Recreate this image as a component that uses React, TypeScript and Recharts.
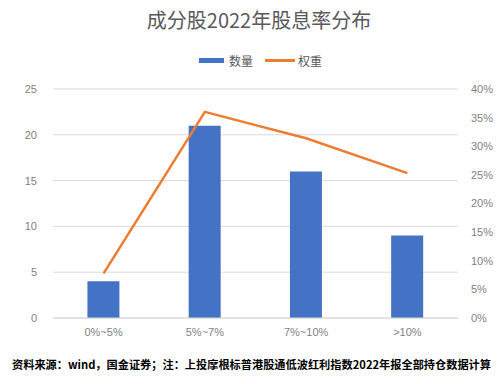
import React from 'react';
import { ComposedChart, Bar, Line, XAxis, YAxis, CartesianGrid } from 'recharts';

// Data
const categories = ['0%~5%', '5%~7%', '7%~10%', '>10%'];
const counts = [4, 21, 16, 9];
const weights = [0.078, 0.36, 0.314, 0.253];
const leftTicks = [0, 5, 10, 15, 20, 25];
const rightTicks = [0, 0.05, 0.1, 0.15, 0.2, 0.25, 0.3, 0.35, 0.4];

const title = '成分股2022年股息率分布';
const note = '资料来源：wind，国金证券；注：上投摩根标普港股通低波红利指数2022年报全部持仓数据计算';

const BLUE = '#4472c4';
const ORANGE = '#ed7d31';
const AXIS_TEXT = '#7f7f7f';
const FONT = '"Liberation Sans", "Noto Sans CJK SC", sans-serif';

const data = categories.map((name, i) => ({ name, count: counts[i], weight: weights[i] }));

const tickStyle = { fill: AXIS_TEXT, fontSize: 11, fontFamily: FONT };

export default function App() {
  return (
    <div style={{ position: 'fixed', left: 0, top: 0, width: 499, height: 384, background: '#fff', fontFamily: FONT }}>
      <div
        style={{
          position: 'absolute', left: 0, top: 7, width: 518, textAlign: 'center',
          fontSize: 20, color: '#595959', fontFamily: '"Noto Sans CJK SC", sans-serif', lineHeight: '26px',
        }}
      >
        {title}
      </div>

      {/* legend */}
      <div style={{ position: 'absolute', left: 199, top: 52, height: 16, display: 'flex', alignItems: 'center', fontSize: 12, color: '#595959', fontFamily: '"Noto Sans CJK SC", sans-serif' }}>
        <span style={{ display: 'inline-block', width: 25, height: 5, background: BLUE }} />
        <span style={{ marginLeft: 5 }}>数量</span>
        <span style={{ display: 'inline-block', width: 30, height: 3, background: ORANGE, marginLeft: 12 }} />
        <span style={{ marginLeft: 3 }}>权重</span>
      </div>

      <ComposedChart
        width={499}
        height={384}
        data={data}
        margin={{ top: 89, right: 0, bottom: 36, left: 0 }}
        barCategoryGap="34%"
      >
        <CartesianGrid yAxisId="left" vertical={false} stroke="#d9d9d9" />
        <XAxis
          dataKey="name"
          axisLine={{ stroke: '#d9d9d9' }}
          tickLine={false}
          tick={tickStyle}
          tickMargin={4}
          height={30}
        />
        <YAxis
          yAxisId="left"
          domain={[0, 25]}
          ticks={leftTicks}
          axisLine={false}
          tickLine={false}
          tick={tickStyle}
          tickMargin={10}
          width={53}
        />
        <YAxis
          yAxisId="right"
          orientation="right"
          domain={[0, 0.4]}
          ticks={rightTicks}
          tickFormatter={(v: number) => `${Math.round(v * 100)}%`}
          axisLine={false}
          tickLine={false}
          tick={{ ...tickStyle, textAnchor: 'start' }}
          tickMargin={7}
          width={41}
        />
        <Bar yAxisId="left" dataKey="count" fill={BLUE} isAnimationActive={false} />
        <Line
          yAxisId="right"
          type="linear"
          dataKey="weight"
          stroke={ORANGE}
          strokeWidth={2.5}
          dot={false}
          isAnimationActive={false}
        />
      </ComposedChart>

      <div
        style={{
          position: 'absolute', left: 12, top: 356, width: 484, whiteSpace: 'nowrap',
          fontSize: 11.2, fontWeight: 'bold', color: '#000', fontFamily: '"Noto Sans CJK SC", sans-serif', lineHeight: '16px',
        }}
      >
        {note}
      </div>
    </div>
  );
}
